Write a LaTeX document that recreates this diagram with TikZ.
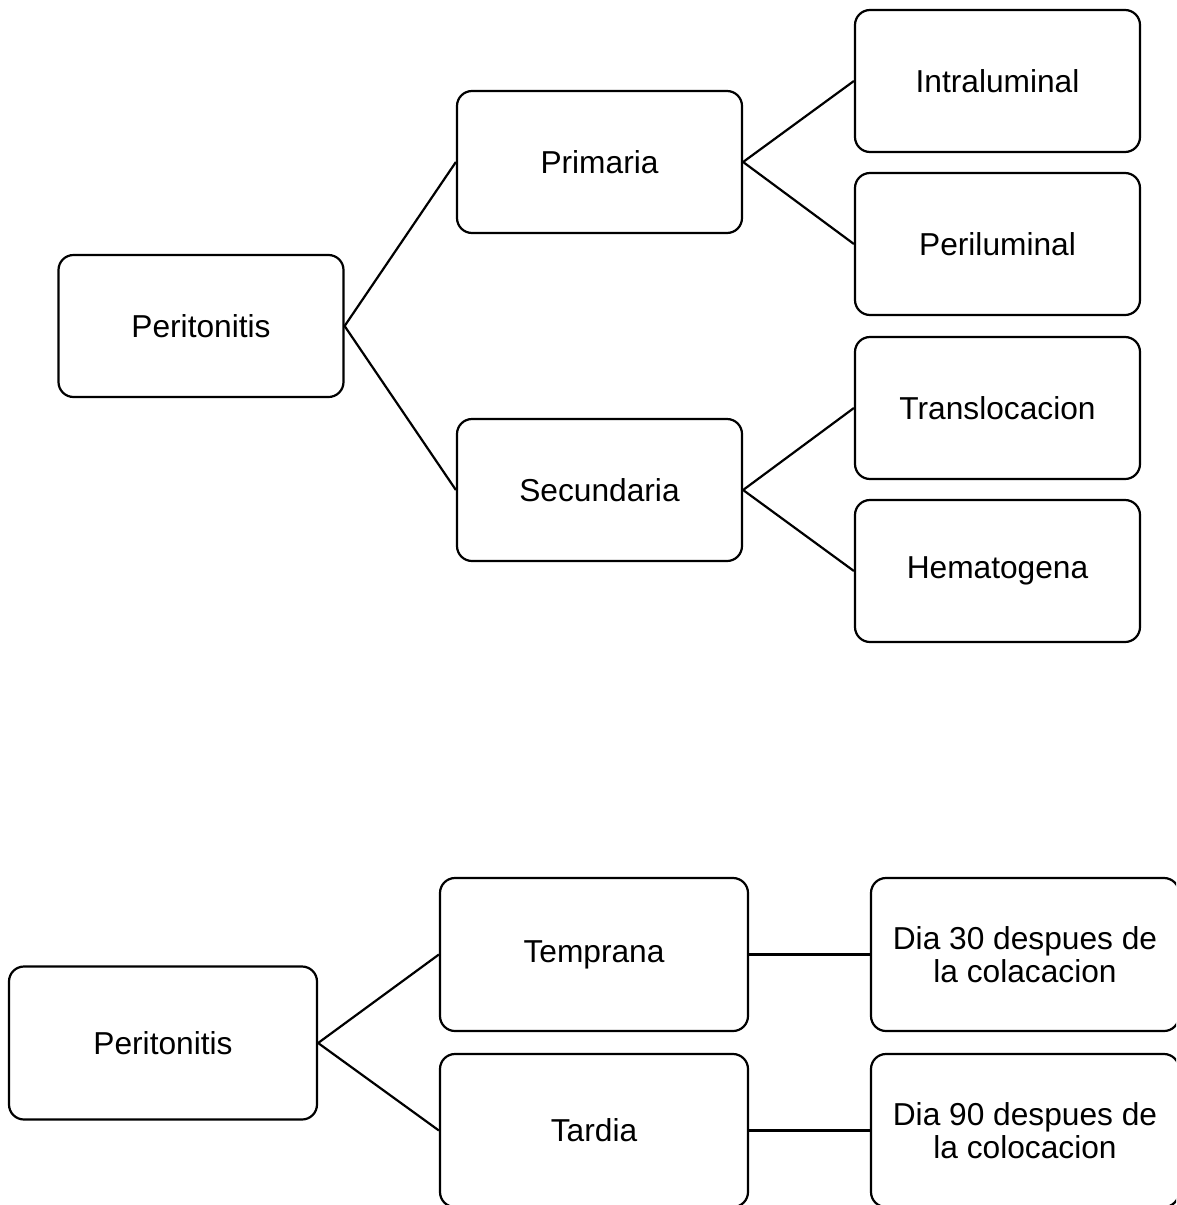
\documentclass[tikz,border=0pt]{standalone}
\usepackage{fontspec}
\setmainfont{Liberation Sans}
\begin{document}
\begin{tikzpicture}[x=1pt,y=-1pt,
  box/.style={draw=black,line width=2.2pt,rounded corners=15pt,minimum width=285pt,minimum height=142pt,inner sep=0pt,align=center,font=\fontsize{31.7}{33}\selectfont},
  wbox/.style={box,minimum width=308pt,minimum height=153pt},
  conn/.style={line width=2.2pt}]
\clip (0,0) rectangle (1176,1205);
\fill[white] (0,0) rectangle (1176,1205);
% top tree
\node[box] (p1) at (201,326) {Peritonitis};
\node[box] (prim) at (599.5,162) {Primaria};
\node[box] (sec) at (599.5,490) {Secundaria};
\node[box] (intra) at (997.5,81) {Intraluminal};
\node[box] (peri) at (997.5,244) {Periluminal};
\node[box] (trans) at (997.5,408) {Translocacion};
\node[box] (hema) at (997.5,571) {Hematogena};
\draw[conn] (p1.east) -- (prim.west);
\draw[conn] (p1.east) -- (sec.west);
\draw[conn] (prim.east) -- (intra.west);
\draw[conn] (prim.east) -- (peri.west);
\draw[conn] (sec.east) -- (trans.west);
\draw[conn] (sec.east) -- (hema.west);
% bottom tree
\node[wbox] (p2) at (163,1043) {Peritonitis};
\node[wbox] (temp) at (594,954.5) {Temprana};
\node[wbox] (tard) at (594,1130.5) {Tardia};
\node[wbox] (d30) at (1025,954.5) {Dia 30 despues de\\la colacacion};
\node[wbox] (d90) at (1025,1130.5) {Dia 90 despues de\\la colocacion};
\draw[conn] (p2.east) -- (temp.west);
\draw[conn] (p2.east) -- (tard.west);
\draw[conn] (temp.east) -- (d30.west);
\draw[conn] (tard.east) -- (d90.west);
\end{tikzpicture}
\end{document}
